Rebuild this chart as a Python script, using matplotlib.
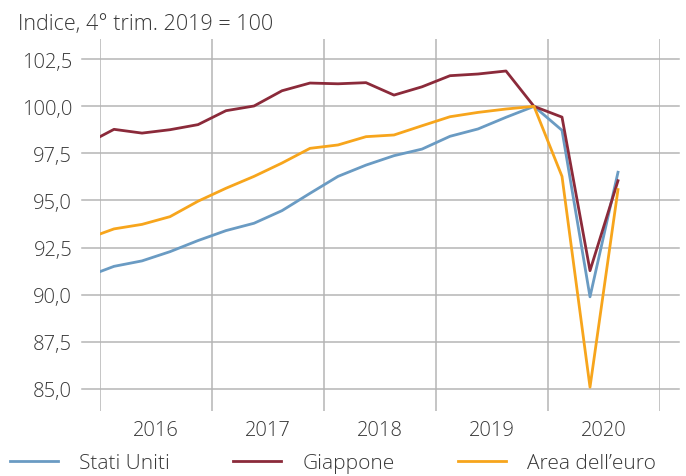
import matplotlib.pyplot as plt
from matplotlib.ticker import FixedLocator, NullFormatter

plt.rcParams['font.family'] = ['Open Sans', 'DejaVu Sans']
plt.rcParams['font.weight'] = 'light'

# trimestri dal 4° 2015 al 3° 2020
quarters = ['2015Q4',
            '2016Q1', '2016Q2', '2016Q3', '2016Q4',
            '2017Q1', '2017Q2', '2017Q3', '2017Q4',
            '2018Q1', '2018Q2', '2018Q3', '2018Q4',
            '2019Q1', '2019Q2', '2019Q3', '2019Q4',
            '2020Q1', '2020Q2', '2020Q3']

stati_uniti = [90.94,
               91.50, 91.79, 92.28, 92.87,
               93.40, 93.79, 94.46, 95.38,
               96.28, 96.88, 97.38, 97.73,
               98.41, 98.80, 99.42, 100.0,
               98.73, 89.88, 96.50]

giappone = [98.00,
            98.78, 98.58, 98.76, 99.03,
            99.77, 100.02, 100.83, 101.24,
            101.20, 101.26, 100.60, 101.04,
            101.63, 101.72, 101.88, 100.0,
            99.43, 91.27, 96.05]

area_euro = [92.95,
             93.49, 93.73, 94.14, 94.96,
             95.65, 96.28, 96.99, 97.77,
             97.95, 98.39, 98.48, 98.97,
             99.45, 99.68, 99.86, 100.0,
             96.28, 85.08, 95.58]

years = [2016, 2017, 2018, 2019, 2020]
y_ticks = [85.0, 87.5, 90.0, 92.5, 95.0, 97.5, 100.0, 102.5]

# posizione del trimestre: centro del trimestre nell'anno
x = [int(q[:4]) + (int(q[-1]) - 0.5) / 4 for q in quarters]

text_col = '#383838'
grid_col = '#b5b5b5'

fig = plt.figure(figsize=(6.86, 4.77), dpi=100)
ax = fig.add_axes([100 / 686, (477 - 411.7) / 477, 560 / 686, (411.7 - 40) / 477])

ax.plot(x, stati_uniti, color='#6a9bc3', lw=2.0, label='Stati Uniti', zorder=3)
ax.plot(x, giappone, color='#8b2a3a', lw=2.0, label='Giappone', zorder=3)
ax.plot(x, area_euro, color='#f7a51c', lw=2.0, label='Area dell\u2019euro', zorder=3)

ax.set_xlim(2016, 2021)
ax.set_ylim(83.83, 103.58)

# griglia orizzontale che sporge oltre l'area dei dati
for v in y_ticks:
    ax.axhline(v, xmin=-18 / 560, xmax=1 + 19 / 560, color=grid_col, lw=1.1,
               clip_on=False, zorder=1)
for yr in years + [2021]:
    ax.axvline(yr, color=grid_col, lw=1.1, zorder=1)

ax.set_yticks(y_ticks)
ax.set_yticklabels([f'{v:.1f}'.replace('.', ',') for v in y_ticks])
ax.xaxis.set_major_locator(FixedLocator(years + [2021]))
ax.xaxis.set_major_formatter(NullFormatter())
ax.xaxis.set_minor_locator(FixedLocator([yr + 0.5 for yr in years]))
ax.set_xticklabels([str(yr) for yr in years], minor=True)

ax.tick_params(axis='y', length=0, pad=20, labelsize=14.5, labelcolor=text_col)
ax.tick_params(axis='x', which='both', length=0, pad=7, labelsize=14.5, labelcolor=text_col)

for s in ax.spines.values():
    s.set_visible(False)

fig.text(18 / 686, 1 - 30 / 477, 'Indice, 4\u00b0 trim. 2019 = 100', fontsize=15.5,
         color=text_col, ha='left', va='baseline')

fig.legend(loc='center left', bbox_to_anchor=(4 / 686, 1 - 464 / 477), ncol=3,
           frameon=False, fontsize=15, labelcolor=text_col, handlelength=2.3,
           handletextpad=1.0, columnspacing=3.05, borderaxespad=0, borderpad=0.3)

fig.savefig('out.png', dpi=100)
